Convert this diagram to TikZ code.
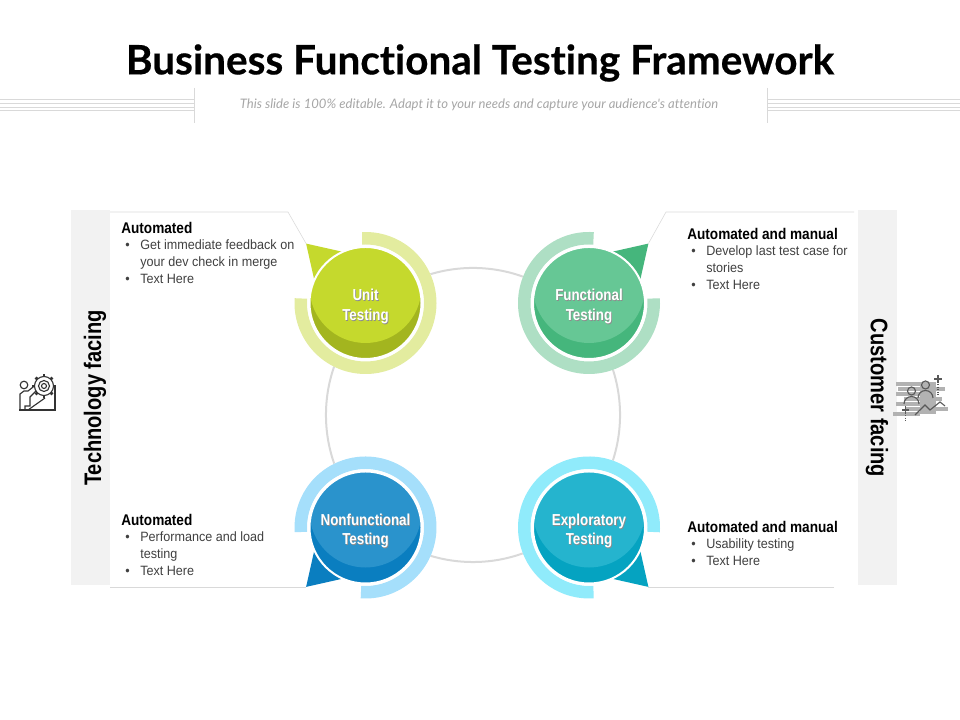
\documentclass[tikz,border=0pt]{standalone}
\usepackage{fontspec}
\usetikzlibrary{calc}
\newfontfamily\titlefont[Ligatures=NoCommon]{Lato}
\newfontfamily\heavyfont[Ligatures=NoCommon,FakeBold=0.5]{Lato}
\newfontfamily\narrowfont[FakeStretch=0.84]{Liberation Sans}
\newfontfamily\headfont[FakeStretch=0.88]{Liberation Sans}
\newfontfamily\bodyfont[FakeStretch=0.933]{Liberation Sans}
\newcommand{\bl}{\makebox[0.375cm][l]{\textbullet}}
\newcommand{\ct}{\hspace*{0.375cm}}
\begin{document}
\begin{tikzpicture}[x=0.025cm,y=0.025cm]
        \tikzstyle{disc} = [circle, minimum size=2.8cm, inner sep=0pt, draw=white, line width=0.05cm]
        \tikzstyle{lbl} = [align=center, font=\narrowfont\bfseries\fontsize{11.3}{14}\selectfont, text=white]
        \tikzstyle{head} = [anchor=west, inner sep=0pt, font=\headfont\bfseries\fontsize{11}{12}\selectfont]
        \tikzstyle{body} = [anchor=north west, inner sep=0pt, align=left, text=black!75, font=\bodyfont\fontsize{9.6}{11.9}\selectfont]
        \tikzstyle{band} = [fill=black!5, draw=none]
        \tikzstyle{side} = [inner sep=0pt, font=\narrowfont\bfseries\fontsize{17}{20}\selectfont]
        \tikzstyle{rule} = [draw=black!15, line width=0.4pt]
        \tikzstyle{icon} = [draw=black!80, line width=0.8pt]
        \useasboundingbox (0,0) rectangle (960,720);

        % title
        \node (title) at (480,657) [inner sep=0pt, font=\heavyfont\bfseries\fontsize{28.8}{32}\selectfont] {Business Functional Testing Framework};
        \node (subtitle) at (479,615) [inner sep=0pt, text=black!35, font=\titlefont\itshape\fontsize{9.3}{11}\selectfont] {This slide is 100\% editable. Adapt it to your needs and capture your audience's attention};
        \foreach \y in {621,617,613,609.5} {
                \draw[rule] (0,\y) -- (194,\y);
                \draw[rule] (767,\y) -- (960,\y);
        }
        \draw[rule] (194.5,632) -- (194.5,597);
        \draw[rule] (767,632) -- (767,597);

        % side bands
        \fill[band] (71,135) rectangle (110,510);
        \fill[band] (858,135) rectangle (897,510);
        \node (techfacing) at (95,322) [side, rotate=90] {Technology facing};
        \node (custfacing) at (877,322) [side, rotate=-90] {Customer facing};

        % centre ring
        \node (hub) at (473,305) [circle, minimum size=7.35cm, draw=black!15, line width=0.05cm] {};

        % bubbles
        \coordinate (unitpos) at (365.5,417);
        \coordinate (funcpos) at (589,417);
        \coordinate (nonfpos) at (365.5,192.5);
        \coordinate (explpos) at (589,192.5);
        \definecolor{ringa}{HTML}{E3EC9F}\definecolor{lighta}{HTML}{C5D92D}\definecolor{darka}{HTML}{A3B51F}
        \definecolor{ringb}{HTML}{AEDFC4}\definecolor{lightb}{HTML}{66C795}\definecolor{darkb}{HTML}{45B67C}
        \definecolor{ringc}{HTML}{A5DFFB}\definecolor{lightc}{HTML}{2A93CC}\definecolor{darkc}{HTML}{0A7EC0}
        \definecolor{ringd}{HTML}{90EBFB}\definecolor{lightd}{HTML}{25B4CE}\definecolor{darkd}{HTML}{05A3C1}
        \foreach \name/\pos/\col/\tipcol/\from/\to/\ang/\txt in {
                unit/unitpos/a/lighta/176/453/135/{Unit\\Testing},
                func/funcpos/b/darkb/86/364/45/{Functional\\Testing},
                nonf/nonfpos/c/darkc/266/544/225/{Nonfunctional\\Testing},
                expl/explpos/d/darkd/356/634/315/{Exploratory\\Testing}} {
                \fill[white] (\pos) circle (71);
                \draw[ring\col, line width=0.3125cm] ($(\pos)+(\from:64.75)$) arc[start angle=\from, end angle=\to, radius=64.75];
                \coordinate (\name tip) at ($(\pos)+(\ang:84)$);
                \fill[white] (\pos) circle (58);
                \fill[\tipcol] (\name tip) -- ($(\pos)+(\ang+21:56)$) -- ($(\pos)+(\ang-21:56)$) -- cycle;
                \node (\name) at (\pos) [disc, fill=dark\col, path picture={\fill[light\col] ([yshift=0.4cm]path picture bounding box.center) circle (1.4cm);}] {};
                \node at ($(\pos)+(0.8,-4.3)$) [lbl, text=black!45] {\txt};
                \node (\name label) at ($(\pos)+(0,-3.5)$) [lbl] {\txt};
        }

        % text boxes
        \draw[rule] (110,508) -- (288,508) -- (unittip);
        \draw[rule] (854,508) -- (666,508) -- (functip);
        \draw[rule] (110,0 |- nonftip) -- (nonftip);
        \draw[rule] (834,0 |- expltip) -- (expltip);

        \node (unithead) at (121,492) [head] {Automated};
        \node (unitbody) at (125,480.2) [body] {\bl Get immediate feedback on\\\ct your dev check in merge\\\bl Text Here};
        \node (funchead) at (687,486) [head] {Automated and manual};
        \node (funcbody) at (691,474.2) [body] {\bl Develop last test case for\\\ct stories\\\bl Text Here};
        \node (nonfhead) at (121,200) [head] {Automated};
        \node (nonfbody) at (125,188.2) [body] {\bl Performance and load\\\ct testing\\\bl Text Here};
        \node (explhead) at (687,193) [head] {Automated and manual};
        \node (explbody) at (691,181.2) [body] {\bl Usability testing\\\bl Text Here};

        % left icon
        \draw[icon] (19,310) -- (55,310) -- (55,333);
        \draw[icon] (28,310) -- (45,322);
        \draw[icon] (24,335) circle (3.8);
        \draw[icon] (20,310) -- (20,326) -- (24,329) -- (28,329) -- (37,336) -- (39,332) -- (30,323) -- (30,314) -- (25,314) -- (25,310);
        \foreach \a in {0,45,...,315} {
                \draw[icon, line width=2pt] ($(44,334)+(\a:9)$) -- ($(44,334)+(\a:12)$);
        }
        \draw[icon, fill=white] (44,334) circle (9.5);
        \draw[icon] (44,334) circle (5.5);
        \draw[icon] (44,334) circle (2.5);

        % right icon
        \foreach \xa/\xb/\y in {896/925/336,898/945/331,896/930/326,904/942/321,896/928/316,905/948/311,893/920/306} {
                \draw[black!30, line width=2.6pt] (\xa,\y) -- (\xb,\y);
        }
        \fill[black!30] (920,306) -- (936,306) -- (936,338) -- (920,338) -- cycle;
        \draw[icon, draw=black!65] (925.5,335) circle (4);
        \draw[icon, draw=black!65] (918,322) arc[start angle=180, end angle=0, radius=7.5];
        \draw[icon, draw=black!65] (911.5,329) circle (4);
        \draw[icon, draw=black!65] (904,316) arc[start angle=180, end angle=0, radius=7.5];
        \draw[icon, draw=black!65] (915,305) -- (925,315) -- (930,310) -- (940,318) -- (945,314);
        \draw[icon, draw=black!65] (938,337) -- (938,345) (934,341) -- (942,341);
        \draw[icon, draw=black!65, densely dotted] (938,336) -- (938,324);
        \draw[icon, draw=black!65] (905.5,306) -- (905.5,314) (902,310) -- (909,310);
        \draw[icon, draw=black!65, densely dotted] (905.5,305) -- (905.5,298);
\end{tikzpicture}
\end{document}
